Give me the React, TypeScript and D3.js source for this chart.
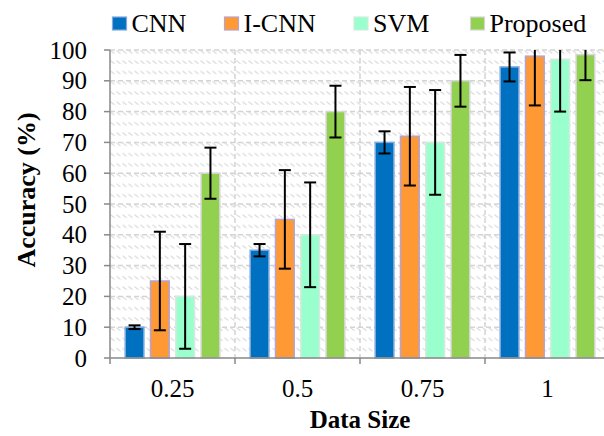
import * as d3 from "d3";

const categories = ["0.25", "0.5", "0.75", "1"];
const seriesNames = ["CNN", "I-CNN", "SVM", "Proposed"];
const cnnValues = [10, 35, 70, 94.5];
const icnnValues = [25, 45, 72, 98];
const svmValues = [20, 40, 70, 97];
const proposedValues = [60, 80, 90, 98.5];
const cnnErrors = [0.6, 2, 3.6, 4.7];
const icnnErrors = [16, 16, 16, 16];
const svmErrors = [17, 17, 17, 17];
const proposedErrors = [8.3, 8.4, 8.4, 8.3];
const yTicks = [0, 10, 20, 30, 40, 50, 60, 70, 80, 90, 100];

const fills = ["#0070C0", "#FF9933", "#99FFCC", "#92D050"];
const borders = ["#7FA9DC", "#B4A3D3", "#D6E9E0", "#D6D6D6"];

const W = 604;
const H = 436;
const left = 110;
const right = 610;
const top = 50;
const bottom = 358;
const serif = {
  fontFamily: '"Liberation Serif", "Times New Roman", Times, "DejaVu Serif", serif',
};

export default function App() {
  const values = [cnnValues, icnnValues, svmValues, proposedValues];
  const errors = [cnnErrors, icnnErrors, svmErrors, proposedErrors];

  const x = d3.scaleBand().domain(categories).range([left, right]).padding(0);
  const xs = d3
    .scaleBand()
    .domain(seriesNames)
    .range([0, x.bandwidth()])
    .paddingInner(0.26)
    .paddingOuter(0.6);
  const y = d3.scaleLinear().domain([0, 100]).range([bottom, top]);

  const rowH = (y(0) - y(10)) / 3;
  const cap = 6;
  const legendX = [112.5, 224.5, 354, 470.5];

  return (
    <svg
      width={W}
      height={H}
      style={{ position: "absolute", left: 0, top: 0, background: "#fff" }}
    >
      <defs>
        <pattern id="hatch" patternUnits="userSpaceOnUse" x={left} y={top} width={6} height={rowH}>
          <line x1={0.5} y1={0.5} x2={4.5} y2={3.5} stroke="#D9D9D9" strokeWidth={1.1} />
        </pattern>
        <clipPath id="plot">
          <rect x={left} y={top} width={right - left} height={bottom - top} />
        </clipPath>
      </defs>

      <rect x={left} y={top} width={right - left} height={bottom - top} fill="url(#hatch)" />

      {/* grid */}
      <g stroke="#D4D4D4" strokeWidth={1.5} strokeDasharray="5,3">
        {yTicks.slice(1).map((t) => (
          <line key={t} x1={left} x2={right} y1={y(t)} y2={y(t)} />
        ))}
        {categories.slice(1).map((c) => (
          <line key={c} x1={x(c)} x2={x(c)} y1={top} y2={bottom} />
        ))}
      </g>

      {/* bars */}
      {seriesNames.map((s, si) =>
        categories.map((c, ci) => (
          <rect
            key={s + c}
            x={x(c)! + xs(s)!}
            y={y(values[si][ci])}
            width={xs.bandwidth()}
            height={bottom - y(values[si][ci])}
            fill={fills[si]}
            stroke={borders[si]}
            strokeWidth={1.5}
          />
        ))
      )}

      {/* error bars */}
      <g clipPath="url(#plot)" stroke="#000" strokeWidth={2}>
        {seriesNames.map((s, si) =>
          categories.map((c, ci) => {
            const cx = x(c)! + xs(s)! + xs.bandwidth() / 2;
            const v = values[si][ci];
            const e = errors[si][ci];
            return (
              <g key={"e" + s + c}>
                <line x1={cx} x2={cx} y1={y(v + e)} y2={y(v - e)} />
                <line x1={cx - cap} x2={cx + cap} y1={y(v + e)} y2={y(v + e)} />
                <line x1={cx - cap} x2={cx + cap} y1={y(v - e)} y2={y(v - e)} />
              </g>
            );
          })
        )}
      </g>

      {/* axes */}
      <g stroke="#898989" strokeWidth={1.5}>
        <line x1={left} x2={left} y1={top} y2={bottom} />
        <line x1={left} x2={right} y1={bottom} y2={bottom} />
        {yTicks.map((t) => (
          <line key={t} x1={left - 6} x2={left} y1={y(t)} y2={y(t)} />
        ))}
        {categories.map((c) => (
          <line key={c} x1={x(c)} x2={x(c)} y1={bottom} y2={bottom + 6} />
        ))}
      </g>

      <g style={serif} fontSize={25} fill="#000">
        {yTicks.map((t) => (
          <text key={t} x={87} y={y(t)} dy="0.34em" textAnchor="end">
            {t}
          </text>
        ))}
        {categories.map((c) => (
          <text key={c} x={x(c)! + x.bandwidth() / 2} y={397} textAnchor="middle">
            {c}
          </text>
        ))}
      </g>

      <text x={360} y={428} textAnchor="middle" style={serif} fontSize={25} fontWeight="bold">
        Data Size
      </text>
      <text
        transform="translate(35,190) rotate(-90)"
        textAnchor="middle"
        style={serif}
        fontSize={26}
        fontWeight="bold"
      >
        Accuracy (%)
      </text>

      {/* legend */}
      {seriesNames.map((s, si) => (
        <g key={"l" + s}>
          <rect
            x={legendX[si]}
            y={17}
            width={14}
            height={13}
            fill={fills[si]}
            stroke={borders[si]}
            strokeWidth={1.2}
          />
          <text x={legendX[si] + 19} y={32} style={serif} fontSize={26}>
            {s}
          </text>
        </g>
      ))}
    </svg>
  );
}
